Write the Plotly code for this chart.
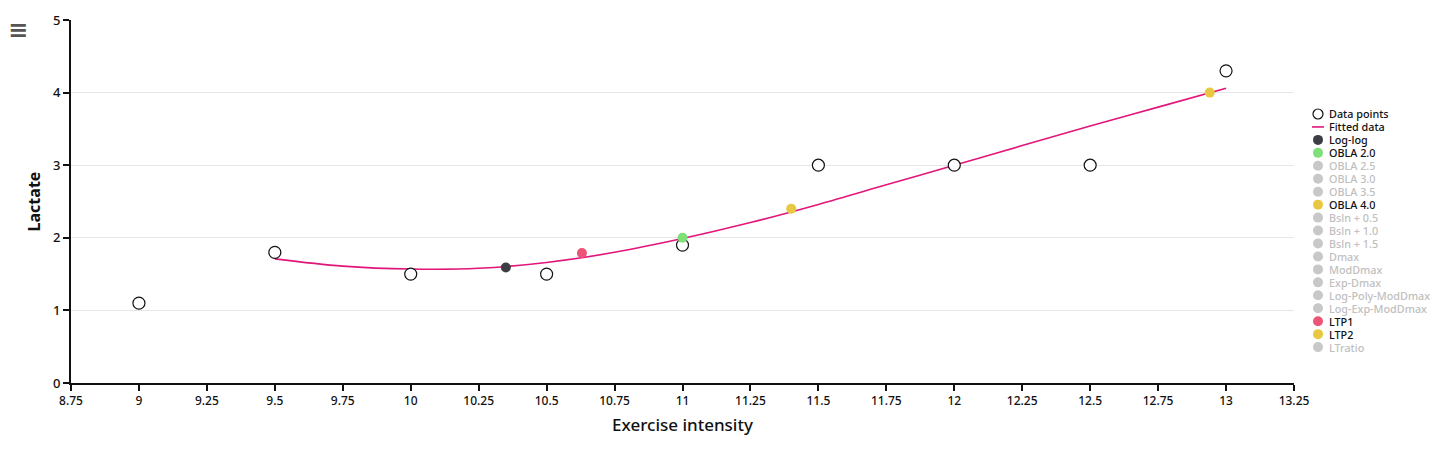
import plotly.graph_objects as go

# ---- data ----
data_x = [9, 9.5, 10, 10.5, 11, 11.5, 12, 12.5, 13]
data_y = [1.1, 1.8, 1.5, 1.5, 1.9, 3.0, 3.0, 3.0, 4.3]

fit_x = [9.5, 9.75, 10.0, 10.25, 10.5, 10.75, 11.0, 11.25, 11.5, 11.75, 12.0, 12.25, 12.5, 12.75, 13.0]
fit_y = [1.71, 1.61, 1.57, 1.58, 1.66, 1.80, 1.99, 2.21, 2.46, 2.73, 3.00, 3.27, 3.54, 3.80, 4.06]

thr_names = ["Log-log", "OBLA 2.0", "OBLA 2.5", "OBLA 3.0", "OBLA 3.5", "OBLA 4.0",
             "Bsln + 0.5", "Bsln + 1.0", "Bsln + 1.5", "Dmax", "ModDmax", "Exp-Dmax",
             "Log-Poly-ModDmax", "Log-Exp-ModDmax", "LTP1", "LTP2", "LTratio"]
thr_x = [10.35, 11.0, None, None, None, 12.94, None, None, None, None, None, None, None, None, 10.63, 11.40, None]
thr_y = [1.59, 2.0, None, None, None, 4.0, None, None, None, None, None, None, None, None, 1.79, 2.40, None]
thr_colors = ["#3d3d45", "#7fe07a", "#c8c8c8", "#c8c8c8", "#c8c8c8", "#e8c840",
              "#c8c8c8", "#c8c8c8", "#c8c8c8", "#c8c8c8", "#c8c8c8", "#c8c8c8",
              "#c8c8c8", "#c8c8c8", "#ec5577", "#e8c840", "#c8c8c8"]

x_ticks = [8.75, 9, 9.25, 9.5, 9.75, 10, 10.25, 10.5, 10.75, 11, 11.25, 11.5, 11.75,
           12, 12.25, 12.5, 12.75, 13, 13.25]
x_ticktext = ["8.75", "9", "9.25", "9.5", "9.75", "10", "10.25", "10.5", "10.75", "11",
              "11.25", "11.5", "11.75", "12", "12.25", "12.5", "12.75", "13", "13.25"]
y_ticks = [0, 1, 2, 3, 4, 5]

FONT = "Noto Sans"
W, H = 1456, 453
OFF = 8  # page body offset
ML, MR, MT, MB = 71 - OFF, 162 + OFF, 20 - OFF, 70 + OFF
PW, PH = W - ML - MR, H - MT - MB

fig = go.Figure()
fig.add_trace(go.Scatter(x=fit_x, y=fit_y, mode="lines", line=dict(color="#e2157a", width=1.6, shape="spline"),
                         name="Fitted data", showlegend=False, hoverinfo="skip"))
fig.add_trace(go.Scatter(x=data_x, y=data_y, mode="markers",
                         marker=dict(size=12, color="white", line=dict(color="#111", width=1.2)),
                         name="Data points", showlegend=False))
for n, xv, yv, c in zip(thr_names, thr_x, thr_y, thr_colors):
    if xv is None:
        continue
    fig.add_trace(go.Scatter(x=[xv], y=[yv], mode="markers", marker=dict(size=10, color=c),
                             name=n, showlegend=False))

# ---- custom compact legend (positions in screen pixels) ----
leg_names = ["Data points", "Fitted data"] + thr_names
leg_active = [True, True] + [xv is not None for xv in thr_x]
shapes = []
annotations = []
y0_px, step_px = 114, 12.95
mx_px, tx_px = 1318, 1328
def px2paper_x(px):
    return (px - OFF - ML) / PW
def py2paper_y(py):
    return (H - MB - (py - OFF)) / PH
for i, (n, act) in enumerate(zip(leg_names, leg_active)):
    py = y0_px + i * step_px
    xc, yc = px2paper_x(mx_px), py2paper_y(py)
    if i == 0:
        shapes.append(dict(type="circle", xref="paper", yref="paper", xsizemode="pixel", ysizemode="pixel",
                           xanchor=xc, yanchor=yc, x0=-5, x1=5, y0=-5, y1=5,
                           line=dict(color="#111", width=1.2), fillcolor="white"))
    elif i == 1:
        shapes.append(dict(type="line", xref="paper", yref="paper", xsizemode="pixel",
                           xanchor=xc, x0=-6, x1=6, y0=yc, y1=yc,
                           line=dict(color="#e2157a", width=1.6)))
    else:
        c = thr_colors[i - 2]
        shapes.append(dict(type="circle", xref="paper", yref="paper", xsizemode="pixel", ysizemode="pixel",
                           xanchor=xc, yanchor=yc, x0=-5, x1=5, y0=-5, y1=5,
                           line=dict(width=0), fillcolor=c))
    annotations.append(dict(x=px2paper_x(tx_px), y=yc, xref="paper", yref="paper", text=n,
                            showarrow=False, xanchor="left", yanchor="middle", borderpad=0,
                            font=dict(family=FONT, size=10.8, weight=500, color="#111" if act else "#c0c0c0")))

annotations.append(dict(x=px2paper_x(7), y=py2paper_y(30), xref="paper", yref="paper", text="<b>≡</b>",
                        showarrow=False, xanchor="left", yanchor="middle", borderpad=0,
                        font=dict(size=24, color="#555", family="DejaVu Sans")))

fig.update_layout(
    width=W, height=H, margin=dict(l=ML, r=MR, t=MT, b=MB),
    plot_bgcolor="white", paper_bgcolor="white",
    font=dict(family=FONT, color="#111", size=12),
    showlegend=False, shapes=shapes, annotations=annotations,
    xaxis=dict(range=[8.75, 13.25], tickvals=x_ticks, ticktext=x_ticktext, showgrid=False,
               showline=True, linecolor="#111", linewidth=2, ticks="outside", ticklen=6,
               tickcolor="#111", tickwidth=1.5, zeroline=False, automargin=False,
               tickfont=dict(size=12, family=FONT, weight=500),
               title=dict(text="Exercise intensity", font=dict(size=17, family=FONT, weight=500), standoff=11)),
    yaxis=dict(range=[0, 5], tickvals=y_ticks, showgrid=True, gridcolor="#e6e6e6",
               showline=True, linecolor="#111", linewidth=2, ticks="outside", ticklen=6,
               tickcolor="#111", tickwidth=1.5, zeroline=False, automargin=False,
               tickfont=dict(size=13, family=FONT, weight=500),
               title=dict(text="<b>Lactate</b>", font=dict(size=16, family=FONT), standoff=8)),
)
fig.write_html("out.html")
